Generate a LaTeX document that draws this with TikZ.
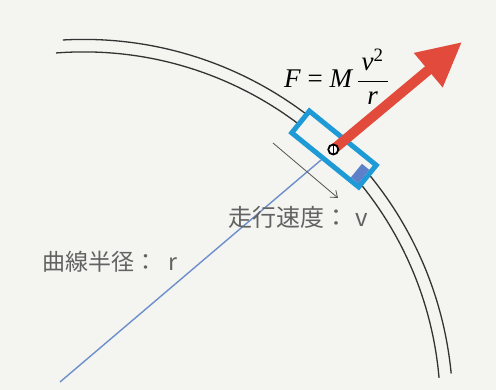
\documentclass[tikz,border=0pt]{standalone}
\usepackage{fontspec}
\usepackage{amsmath}
\usetikzlibrary{arrows.meta,calc}
\newfontfamily\cvjp{Noto Sans CJK JP}
\newfontfamily\cvserif{Liberation Serif}
\definecolor{cvPaper}{HTML}{F4F4F1}
\definecolor{cvRail}{HTML}{333333}
\definecolor{cvCyan}{HTML}{1E9BD7}
\definecolor{cvSteel}{HTML}{6D8FCB}
\definecolor{cvDeck}{HTML}{5E80C8}
\definecolor{cvRed}{HTML}{E24A3B}
\definecolor{cvInk}{HTML}{626262}
\definecolor{cvArrow}{HTML}{555555}
\newcommand{\cvit}[1]{\text{\cvserif\itshape #1}}
\tikzset{
  cv rail/.style={draw=cvRail, line width=1.3pt},
  cv radius/.style={draw=cvSteel, line width=1.4pt},
  cv car/.style={draw=cvCyan, fill=cvPaper, line width=5pt, rotate=-39, minimum width=86pt, minimum height=28pt, inner sep=0pt},
  cv deck/.style={fill=cvDeck, rotate=-39, minimum width=9.5pt, minimum height=17.5pt, inner sep=0pt},
  cv force/.style={draw=cvRed, line width=10pt, -{Triangle[length=44pt, width=42pt]}},
  cv motion/.style={draw=cvArrow, line width=0.8pt, -{Straight Barb[length=6pt, width=9pt]}},
  cv pivot/.style={circle, draw=black, fill=white, line width=1.8pt, minimum size=10pt, inner sep=0pt},
  cv label/.style={font=\cvjp\fontsize{23.5}{28}\selectfont, text=cvInk, inner sep=0pt, anchor=west},
  cv formula/.style={font=\fontsize{27}{32}\selectfont, inner sep=0pt, anchor=west},
}
\begin{document}
\begin{tikzpicture}[x=1pt, y=-1pt]
  \fill[cvPaper] (0,0) rectangle (496,390);
  \useasboundingbox (0,0) rectangle (496,390);

  % Track: two rails on one centre
  \coordinate (ctr) at (83.4,408.9);
  \draw[cv rail] ($(ctr)+(-93.2:369.5)$) arc[start angle=-93.2, end angle=-5.5, radius=369.5];
  \draw[cv rail] ($(ctr)+(-94.4:357)$) arc[start angle=-94.4, end angle=-5, radius=357];

  % Car on the track
  \node[cv car] (car) at (334,149) {};
  \node[cv deck] (deck) at (360.1,173.6) {};

  % Radius and running direction
  \coordinate (r0) at (60,382);
  \draw[cv radius] (r0) -- (car);
  \coordinate (v0) at (273,143);
  \coordinate (v1) at (338,198);
  \draw[cv motion] (v0) -- (v1);

  % Centrifugal force
  \coordinate (cg) at (333.3,149.5);
  \coordinate (tip) at (462,42);
  \draw[cv force] (cg) -- (tip);
  \node[cv pivot] (pivot) at (cg) {};
  \draw[line width=1.3pt] (pivot.north) -- (pivot.south);

  \node[cv formula] (law) at (284,77) {$\cvit{F} \mathrel{\text{\cvserif =}} \cvit{M}\,\dfrac{\,\cvit{v}^{\text{\cvserif 2}}\,}{\cvit{r}}$};
  \node[cv label, font=\cvjp\fontsize{24}{28}\selectfont] (speed) at (228,217) {走行速度：\hspace{7pt}v};
  \node[cv label, font=\cvjp\fontsize{23}{28}\selectfont] (radius) at (42,262) {曲線半径：\hspace{11pt}r};
\end{tikzpicture}
\end{document}
